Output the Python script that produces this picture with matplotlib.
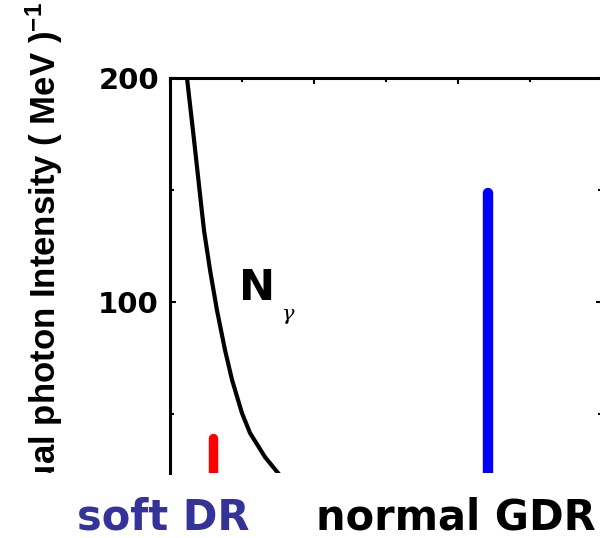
import numpy as np
import matplotlib
matplotlib.use("Agg")
import matplotlib.pyplot as plt
from matplotlib.ticker import MultipleLocator
from matplotlib.patches import Rectangle

# N_gamma curve (energy in MeV, intensity)
curve_e = [1.18, 1.67, 2.15, 2.36, 2.78, 3.26, 3.82, 4.31, 5.00, 5.56, 6.60, 7.50, 7.65]
curve_n = [200.0, 172.3, 144.2, 132.1, 114.3, 96.4, 78.6, 65.2, 50.4, 41.5, 30.8, 23.7, 22.6]

# resonance strength markers
res_names = ["soft DR", "normal GDR"]
res_e = [3.0, 22.05]
res_h = [39.5, 148.7]
res_colors = ["#ff0000", "#0000ff"]

plt.rcParams["mathtext.fontset"] = "custom"
plt.rcParams["mathtext.rm"] = "Liberation Sans:bold"
plt.rcParams["mathtext.it"] = "Liberation Sans:bold"
plt.rcParams["mathtext.bf"] = "Liberation Sans:bold"

W, H = 600, 538
fig = plt.figure(figsize=(W / 100, H / 100), dpi=100)
ax = fig.add_axes([170 / W, 1 - 473 / H, 432 / W, 395 / H])

ax.plot(curve_e, curve_n, color="black", lw=3)
ax.plot([res_e[0]] * 2, [0, res_h[0]], color=res_colors[0], lw=6.8,
        solid_capstyle="round")
ax.plot([res_e[1]] * 2, [0, res_h[1]], color=res_colors[1], lw=7.5,
        solid_capstyle="round")

ax.set_xlim(0, 30)
ax.set_ylim(23.7, 200)

ax.spines["bottom"].set_visible(False)
for s in ["left", "top", "right"]:
    ax.spines[s].set_linewidth(2.2)

ax.xaxis.set_major_locator(MultipleLocator(10))
ax.xaxis.set_minor_locator(MultipleLocator(5))
ax.yaxis.set_major_locator(MultipleLocator(100))
ax.yaxis.set_minor_locator(MultipleLocator(50))
ax.tick_params(which="both", direction="in", top=True, bottom=False,
               right=True, left=True, labelbottom=False, width=1.5)
ax.tick_params(which="major", length=4.5)
ax.tick_params(which="minor", length=3)
ax.tick_params(axis="y", pad=8)
for lab in ax.get_yticklabels():
    lab.set_fontsize(21)
    lab.set_fontweight("bold")
    lab.set_family("DejaVu Sans")

# N_gamma label
ax.text(4.8, 101, "N", fontsize=31, fontweight="bold", family="DejaVu Sans",
        ha="left", va="baseline")
ax.text(7.8, 92.0, "γ", fontsize=15, family="DejaVu Serif", style="italic",
        ha="left", va="baseline")

# y label, cut off at the bottom like in the original crop
ylab = fig.text(44 / W, 1 - 2 / H, r"Virtual photon Intensity ( MeV )$^{-1}$",
                rotation=90, fontsize=25, fontweight="bold",
                family="Liberation Sans", ha="center", va="top")
clip = Rectangle((0, 1 - 473 / H), 160 / W, 473 / H, transform=fig.transFigure)
ylab.set_clip_path(clip)

fig.text(163 / W, 1 - 529 / H, res_names[0], color="#333399", fontsize=30,
         fontweight="bold", family="DejaVu Sans", ha="center", va="baseline")
fig.text(456 / W, 1 - 529 / H, res_names[1], color="black", fontsize=30,
         fontweight="bold", family="DejaVu Sans", ha="center", va="baseline")

fig.savefig("out.png", dpi=100)
